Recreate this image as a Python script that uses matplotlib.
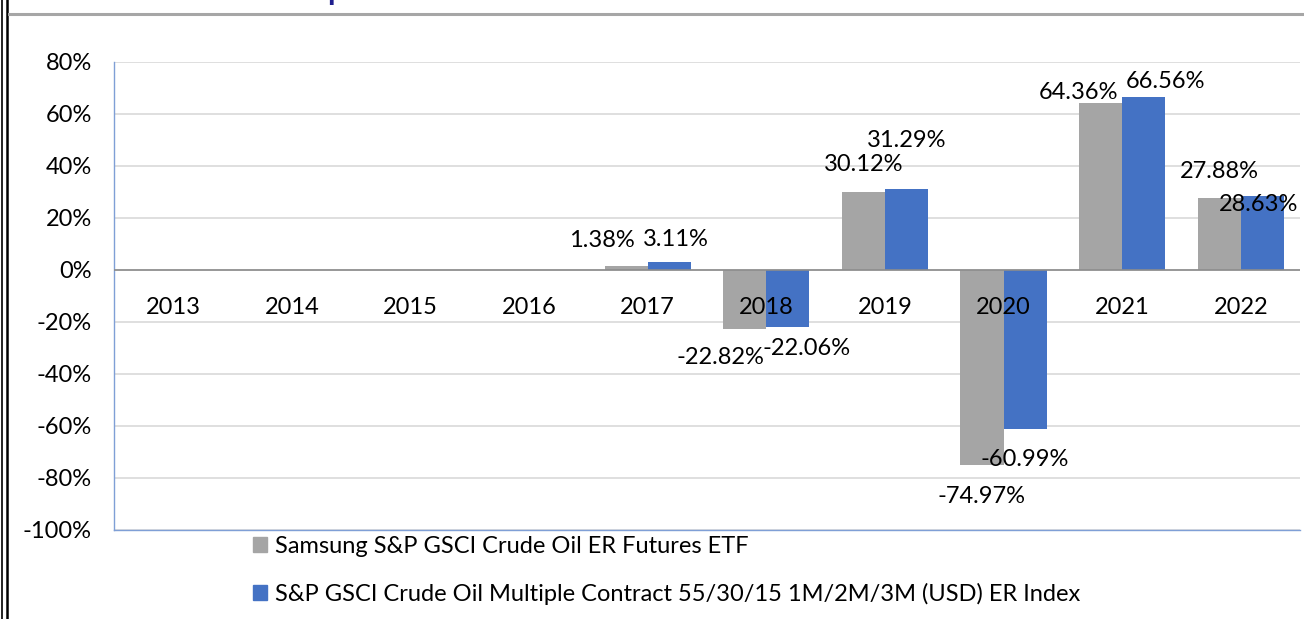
import numpy as np
import matplotlib
matplotlib.use("Agg")
import matplotlib.pyplot as plt
from matplotlib.patches import Patch
from matplotlib.lines import Line2D

# data
years = ["2013", "2014", "2015", "2016", "2017", "2018", "2019", "2020", "2021", "2022"]
etf = [np.nan, np.nan, np.nan, np.nan, 1.38, -22.82, 30.12, -74.97, 64.36, 27.88]
index = [np.nan, np.nan, np.nan, np.nan, 3.11, -22.06, 31.29, -60.99, 66.56, 28.63]
series_names = ["Samsung S&P GSCI Crude Oil ER Futures ETF",
                "S&P GSCI Crude Oil Multiple Contract 55/30/15 1M/2M/3M (USD) ER Index"]
y_ticks = [80, 60, 40, 20, 0, -20, -40, -60, -80, -100]

# label nudges in pixels (dx, dy) from bar end, Excel placed them a bit oddly
etf_offsets = [None] * 4 + [(-24, 26), (-24, -28), (0, 27), (0, -32), (-22, 10), (0, 26)]
index_offsets = [None] * 4 + [(7, 22), (19, -21), (0, 48), (0, -31), (22, 15), (-4, -9)]

GRAY = "#A5A5A5"
BLUE = "#4472C4"
FONT = "Lato"
FS = 17

plt.rcParams["font.family"] = [FONT, "DejaVu Sans"]

fig = plt.figure(figsize=(13.04, 6.19), dpi=100)
ax = fig.add_axes([114 / 1304, 1 - 530 / 619, 1186 / 1304, 468 / 619])

x = np.arange(len(years))
w = 0.363
ax.bar(x - w / 2, etf, w, color=GRAY, zorder=3)
ax.bar(x + w / 2, index, w, color=BLUE, zorder=3)

ax.set_xlim(-0.5, len(years) - 0.5)
ax.set_ylim(-100, 80)
ax.set_yticks(y_ticks)
ax.set_yticklabels([f"{t}%" for t in y_ticks], fontsize=FS)
ax.tick_params(axis="y", length=0, pad=16)
ax.set_xticks([])
ax.grid(axis="y", color="#D9D9D9", linewidth=1.2, zorder=0)
ax.axhline(0, color="#8C8C8C", linewidth=1.2, zorder=4)
for s in ["top", "right"]:
    ax.spines[s].set_visible(False)
ax.spines["left"].set_color("#7F9FD6")
ax.spines["bottom"].set_color("#7F9FD6")
ax.spines["left"].set_linewidth(1)
ax.spines["bottom"].set_linewidth(1)

# year labels sit inside the plot just under the zero line
for xi, yr in zip(x, years):
    ax.annotate(yr, (xi, 0), xytext=(0, -38), textcoords="offset pixels",
                ha="center", va="center", fontsize=FS, zorder=5)

def label_bars(vals, offs, shift):
    for xi, v, off in zip(x, vals, offs):
        if off is None or np.isnan(v):
            continue
        ax.annotate(f"{v:.2f}%", (xi + shift, v), xytext=off,
                    textcoords="offset pixels", ha="center", va="center",
                    fontsize=FS, zorder=6)

label_bars(etf, etf_offsets, -w / 2)
label_bars(index, index_offsets, w / 2)

handles = [Patch(color=GRAY), Patch(color=BLUE)]
fig.legend(handles, series_names, loc="upper left",
           bbox_to_anchor=(236 / 1304, 1 - 519 / 619), frameon=False,
           fontsize=FS, handlelength=0.6, handleheight=0.6,
           handletextpad=0.35, labelspacing=1.1, borderaxespad=0.3)

# frame bits from the original screenshot
fig.add_artist(Line2D([1.5 / 1304, 1.5 / 1304], [0, 1], transform=fig.transFigure, color="black", lw=1.2))
fig.add_artist(Line2D([7 / 1304, 7 / 1304], [0, 1], transform=fig.transFigure, color="black", lw=1.8))
fig.add_artist(Line2D([9 / 1304, 1], [1 - 14 / 619] * 2, transform=fig.transFigure, color="#A6A6A6", lw=2.2))
fig.text(336 / 1304, 1.0, "p", color="#1F1F8F", fontsize=22, fontweight="bold",
         ha="center", va="baseline")

fig.savefig("out.png", dpi=100)
